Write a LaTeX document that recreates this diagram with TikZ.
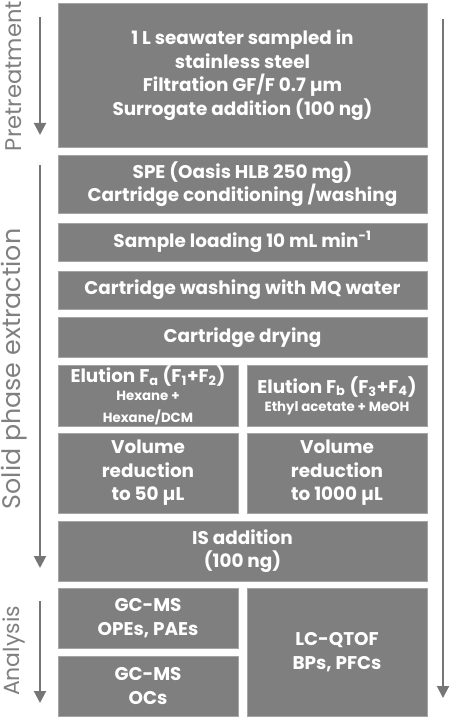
\documentclass[tikz,border=0pt]{standalone}
\usepackage{fontspec}
\setmainfont{Poppins}
\usetikzlibrary{arrows.meta}
\definecolor{boxgray}{RGB}{127,127,127}
\definecolor{edgegray}{RGB}{165,165,165}
\definecolor{arrgray}{RGB}{118,118,118}
\definecolor{labgray}{RGB}{128,128,128}
\newcommand{\smallfnt}{\fontsize{10pt}{13pt}\selectfont}
\begin{document}
\begin{tikzpicture}[x=0.75pt,y=-0.75pt,
  blk/.style={fill=boxgray,draw=edgegray,line width=0.6pt,text=white,align=center,
    font=\fontsize{13.8pt}{17.6pt}\selectfont\bfseries,inner sep=0pt,anchor=center},
  wide/.style={minimum width=276.75pt},
  half/.style={minimum width=135pt},
  flow/.style={draw=arrgray,line width=1.5pt,-{Triangle[width=9pt,length=9pt]}},
  side/.style={rotate=90,text=labgray,anchor=center,inner sep=0pt}]
\useasboundingbox (0,0) rectangle (453,720);
% boxes
\node[blk,wide,minimum height=108pt] (b1) at (242.5,75)
  {1 L seawater sampled in\\stainless steel\\Filtration GF/F 0.7 µm\\Surrogate addition (100 ng)};
\node[blk,wide,minimum height=43.5pt] (b2) at (242.5,184)
  {SPE (Oasis HLB 250 mg)\\Cartridge conditioning /washing};
\node[blk,wide,minimum height=28.5pt] (b3) at (242.5,242)
  {Sample loading 10 mL min\textsuperscript{-1}};
\node[blk,wide,minimum height=28.5pt] (b4) at (242.5,290)
  {Cartridge washing with MQ water};
\node[blk,wide,minimum height=30pt] (b5) at (242.5,337.5)
  {Cartridge drying};
\node[blk,half,minimum height=45.75pt] (b6a) at (148,395.5)
  {Elution F\textsubscript{a} (F\textsubscript{1}+F\textsubscript{2})\\[-4pt]\smallfnt Hexane +\\[-1pt]\smallfnt Hexane/DCM};
\node[blk,half,minimum height=45.75pt] (b6b) at (337,395.5)
  {Elution F\textsubscript{b} (F\textsubscript{3}+F\textsubscript{4})\\[-4pt]\smallfnt Ethyl acetate + MeOH};
\node[blk,half,minimum height=60pt] (b7a) at (148,473)
  {Volume\\reduction\\to 50 µL};
\node[blk,half,minimum height=60pt] (b7b) at (337,473)
  {Volume\\reduction\\to 1000 µL};
\node[blk,wide,minimum height=45pt] (b8) at (242.5,551)
  {IS addition\\(100 ng)};
\node[blk,half,minimum height=45pt] (b9a) at (148,618)
  {GC-MS\\OPEs, PAEs};
\node[blk,half,minimum height=45pt] (b9b) at (148,686)
  {GC-MS\\OCs};
\node[blk,half,minimum height=96pt] (b9c) at (337,652)
  {LC-QTOF\\BPs, PFCs};
% side arrows
\coordinate (p0) at (40,17);  \coordinate (p1) at (40,135);
\coordinate (s0) at (40,165); \coordinate (s1) at (40,568);
\coordinate (a0) at (40,601); \coordinate (a1) at (40,703);
\coordinate (r0) at (443,19); \coordinate (r1) at (443,698);
\draw[flow] (p0) -- (p1);
\draw[flow] (s0) -- (s1);
\draw[flow] (a0) -- (a1);
\draw[flow] (r0) -- (r1);
% side labels
\node[side,font=\fontsize{17pt}{20pt}\selectfont] (lp) at (14,76) {Pretreatment};
\node[side,font=\fontsize{19pt}{22pt}\selectfont] (ls) at (14,369) {Solid phase extraction};
\node[side,font=\fontsize{16.5pt}{20pt}\selectfont] (la) at (14,651) {Analysis};
\end{tikzpicture}
\end{document}
